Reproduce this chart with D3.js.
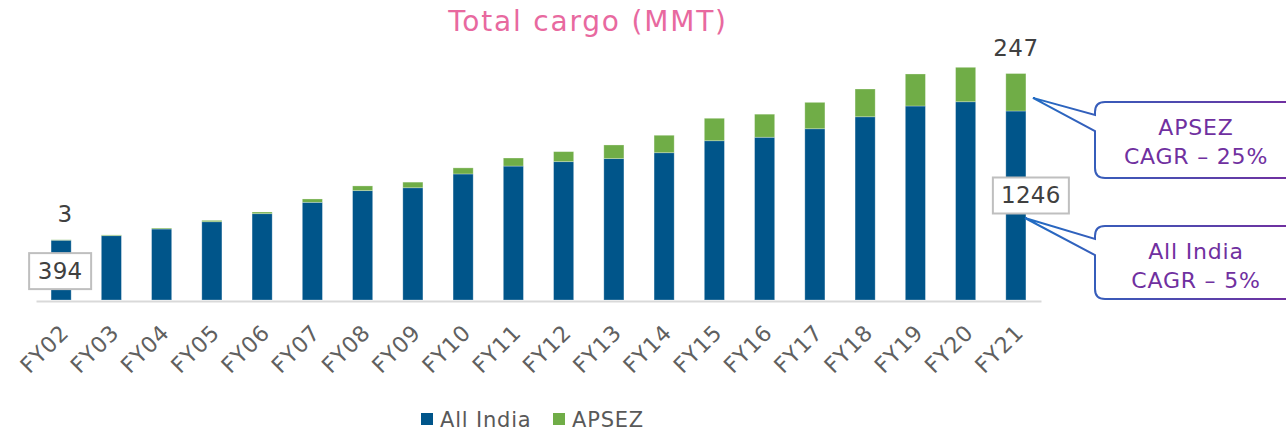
<!DOCTYPE html>
<html>
<head>
<meta charset="utf-8">
<script src="https://cdn.jsdelivr.net/npm/d3@7"></script>
<style>
  body { margin: 0; background: #fff; }
  svg { display: block; font-family: "DejaVu Sans", sans-serif; }
</style>
</head>
<body>
<svg id="mainsvg" width="1286" height="432"></svg>
<script>
const years = ['FY02','FY03','FY04','FY05','FY06','FY07','FY08','FY09','FY10','FY11',
               'FY12','FY13','FY14','FY15','FY16','FY17','FY18','FY19','FY20','FY21']
const allIndia = [394,424,468,516,569,644,721,740,831,883,912,932,971,1050,1073,1129,1208,1279,1307,1246]
const apsez = [3,5,6,9,11,22,31,37,40,53,66,90,115,148,152,174,183,211,227,247]
const seriesNames = ['All India','APSEZ']
const callouts = [
  {lines: ['APSEZ', 'CAGR \u2013 25%'], series: 'APSEZ'},
  {lines: ['All India', 'CAGR \u2013 5%'], series: 'All India'}
]

const blue = '#00558a'
const green = '#70ad47'
const purple = '#7030a0'

const svg = d3.select('#mainsvg')

let rows = years.map((y, i) => ({year: y, 'All India': allIndia[i], 'APSEZ': apsez[i]}))
let stacked = d3.stack().keys(seriesNames)(rows)

let x = d3.scaleBand().domain(years).range([36, 1041]).paddingInner(0.6).paddingOuter(0.3)
let y = d3.scaleLinear().domain([0, 1600]).range([300, 57.3])
let color = d3.scaleOrdinal().domain(seriesNames).range([blue, green])

// title
svg.append('text')
  .attr('x', 588).attr('y', 31)
  .attr('text-anchor', 'middle')
  .attr('font-size', 28)
  .attr('letter-spacing', 1.8)
  .attr('fill', '#e8699f')
  .text('Total cargo (MMT)')

// bars
svg.append('g').selectAll('g')
  .data(stacked).join('g')
  .attr('fill', d => color(d.key))
  .selectAll('rect')
  .data(d => d).join('rect')
  .attr('x', d => x(d.data.year))
  .attr('width', x.bandwidth())
  .attr('y', d => y(d[1]))
  .attr('height', d => y(d[0]) - y(d[1]))
  .attr('stroke', 'rgba(255,255,255,0.35)')
  .attr('stroke-width', 0.8)

// x axis
const xAxis = svg.append('g')
  .attr('transform', 'translate(0,301)')
  .call(d3.axisBottom(x).tickSize(0).tickSizeOuter(0))
xAxis.select('.domain').attr('stroke', '#d9d9d9').attr('stroke-width', 2)
xAxis.selectAll('text')
  .attr('font-family', '"DejaVu Sans", sans-serif')
  .attr('font-size', 22)
  .attr('letter-spacing', 0.8)
  .attr('fill', '#606060')
  .attr('text-anchor', 'end')
  .attr('dy', null)
  .attr('y', 0)
  .attr('transform', 'translate(9,33) rotate(-45)')

// value labels: APSEZ on top of first/last bar
const first = 0, last = years.length - 1
;[first, last].forEach(i => {
  svg.append('text')
    .attr('x', x(years[i]) + x.bandwidth() / 2 + (i === first ? 4 : 0))
    .attr('y', y(allIndia[i] + apsez[i]) - 18)
    .attr('text-anchor', 'middle')
    .attr('font-size', 23)
    .attr('letter-spacing', 0.5)
    .attr('fill', '#404040')
    .text(apsez[i])
})

// boxed All India labels
;[first, last].forEach(i => {
  let cx = x(years[i]) + x.bandwidth() / 2 + (i === first ? -1 : 15)
  let cy = (y(0) + y(allIndia[i])) / 2 + (i === first ? 1 : -10)
  let w = String(allIndia[i]).length * 14 + 20
  svg.append('rect')
    .attr('x', cx - w / 2).attr('y', cy - 18)
    .attr('width', w).attr('height', 36)
    .attr('fill', '#fff')
    .attr('stroke', '#bfbfbf')
    .attr('stroke-width', 2)
  svg.append('text')
    .attr('x', cx).attr('y', cy + 8)
    .attr('text-anchor', 'middle')
    .attr('font-size', 23)
    .attr('letter-spacing', 0.3)
    .attr('fill', '#404040')
    .text(allIndia[i])
})

// callouts
const defs = svg.append('defs')
const grad = defs.append('linearGradient')
  .attr('id', 'calloutGrad')
  .attr('gradientUnits', 'userSpaceOnUse')
  .attr('x1', 1020).attr('y1', 0).attr('x2', 1286).attr('y2', 0)
grad.append('stop').attr('offset', '0%').attr('stop-color', '#1f6fc5')
grad.append('stop').attr('offset', '100%').attr('stop-color', '#7030a0')

function drawCallout(tip, box, lines) {
  let r = 10
  let l = box.x, t = box.y, b = box.y + box.h, rEdge = 1300
  let p = `M${l + r},${t} L${rEdge},${t} L${rEdge},${b} L${l + r},${b}`
    + ` Q${l},${b} ${l},${b - r} L${l},${t + 29} L${tip[0]},${tip[1]} L${l},${t + 13}`
    + ` L${l},${t + r} Q${l},${t} ${l + r},${t} Z`
  svg.append('path')
    .attr('d', p)
    .attr('fill', '#fff')
    .attr('stroke', 'url(#calloutGrad)')
    .attr('stroke-width', 2)
  svg.append('text')
    .attr('x', 1196).attr('y', t + 33)
    .attr('text-anchor', 'middle')
    .attr('font-size', 22)
    .attr('letter-spacing', 0.8)
    .attr('fill', purple)
    .selectAll('tspan')
    .data(lines).join('tspan')
    .attr('x', 1196)
    .attr('dy', (d, k) => k === 0 ? 0 : 29)
    .text(d => d)
}

let tipX = x(years[last]) + x.bandwidth() + 7
drawCallout([tipX, y(allIndia[last] + apsez[last] * 0.35)], {x: 1095, y: 102, h: 76}, callouts[0].lines)
drawCallout([tipX - 8, y(allIndia[last]) + 107], {x: 1095, y: 226, h: 73}, callouts[1].lines)

// legend
const legend = svg.append('g').attr('transform', 'translate(421,413)')
let lx = 0
seriesNames.forEach(s => {
  legend.append('rect')
    .attr('x', lx).attr('y', 0)
    .attr('width', 12).attr('height', 12)
    .attr('fill', color(s))
  legend.append('text')
    .attr('x', lx + 19).attr('y', 14)
    .attr('font-size', 21)
    .attr('letter-spacing', 0.8)
    .attr('fill', '#595959')
    .text(s)
  lx += 132
})
</script>
</body>
</html>
